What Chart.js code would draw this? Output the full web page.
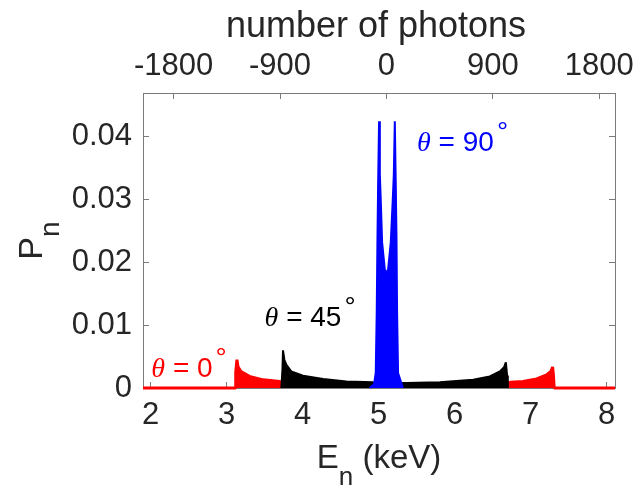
<!DOCTYPE html>
<html>
<head>
<meta charset="utf-8">
<script src="https://cdn.jsdelivr.net/npm/chart.js"></script>
<style>
  html, body { margin: 0; padding: 0; background: #fff; }
  #wrap { width: 636px; height: 486px; position: relative; }
</style>
</head>
<body>
<div id="wrap"><canvas id="chart"></canvas></div>
<script>
// theta = 0 deg (red)
const redEnergy = [1.9, 3.112, 3.12, 3.136, 3.15, 3.19, 3.30, 3.48, 3.70, 4.0, 4.5, 5.0, 5.5, 6.0, 6.5, 6.73, 6.90, 7.08, 7.21, 7.27, 7.289, 7.30, 7.31, 8.11];
const redProb = [0, 0, 0.0025, 0.0045, 0.0034, 0.0026, 0.00185, 0.0013, 0.00105, 0.0009, 0.0007, 0.00065, 0.00065, 0.0007, 0.0008, 0.0009, 0.00105, 0.00144, 0.0021, 0.0027, 0.00335, 0.002, 0, 0];

// theta = 45 deg (black)
const blackEnergy = [3.72, 3.735, 3.742, 3.76, 3.787, 3.85, 4.005, 4.27, 4.577, 4.93, 5.1, 5.367, 5.805, 6.244, 6.463, 6.595, 6.65, 6.674, 6.69, 6.70];
const blackProb = [0, 0.003, 0.006, 0.0045, 0.0037, 0.00265, 0.00196, 0.00144, 0.00105, 0.0009, 0.00085, 0.0008, 0.0009, 0.0013, 0.00185, 0.00265, 0.0033, 0.0041, 0.002, 0];

// theta = 90 deg (blue)
const blueEnergy = [4.88, 4.94, 4.962, 4.975, 4.985, 4.993, 5.006, 5.016, 5.028, 5.046, 5.081, 5.103, 5.125, 5.16, 5.186, 5.2, 5.213, 5.226, 5.235, 5.243, 5.256, 5.32];
const blueProb = [0, 0.0006, 0.0024, 0.012, 0.024, 0.032, 0.0425, 0.034, 0.030, 0.0232, 0.0189, 0.01835, 0.0189, 0.0232, 0.030, 0.034, 0.0425, 0.032, 0.024, 0.012, 0.0024, 0];

const xTicks = [2, 3, 4, 5, 6, 7, 8];
const yTicks = [0, 0.01, 0.02, 0.03, 0.04];
const photonTicks = [-1800, -900, 0, 900, 1800];

const labelAngles = ['0', '45', '90'];
const labelEnergy = [2.01, 3.50, 5.506];
const labelProb = [0.00176, 0.00983, 0.03775];
const labelColors = ['#ff0000', '#000000', '#0000ff'];

const X_MIN = 1.9, X_MAX = 8.11, Y_MAX = 0.047;
const E_ZERO = 5.103;              // keV at zero photons
const KEV_PER_PHOTON = 1.4 / 900;

const TEXT = '#262626';
const FRAME = '#7a7a7a';
const SANS = "'Liberation Sans', Arial, sans-serif";
const SERIF = "'Liberation Serif', 'Times New Roman', serif";

function toPoints(xs, ys) {
  return xs.map((x, i) => ({ x: x, y: ys[i] }));
}

function setTicks(values) {
  return scale => { scale.ticks = values.map(v => ({ value: v })); };
}

// fixed box sizes, no extra room for overhanging labels
function fixSize(dim, size) {
  return scale => {
    scale[dim] = size;
    scale.paddingLeft = scale.paddingRight = scale.paddingTop = scale.paddingBottom = 0;
  };
}

// draws a run of text pieces, returns total width
function drawParts(ctx, x, y, parts, measureOnly) {
  let cx = x;
  parts.forEach(p => {
    ctx.font = p.font;
    if (!measureOnly) ctx.fillText(p.text, cx + (p.gap || 0), y - (p.rise || 0));
    cx += ctx.measureText(p.text).width + (p.gap || 0);
  });
  return cx - x;
}

function drawCentered(ctx, cx, y, parts) {
  const w = drawParts(ctx, 0, 0, parts, true);
  drawParts(ctx, cx - w / 2, y, parts);
}

const textPlugin = {
  id: 'texts',
  afterDraw(chart) {
    const ctx = chart.ctx;
    const area = chart.chartArea;
    const xs = chart.scales.x, ys = chart.scales.y;
    ctx.save();
    ctx.textBaseline = 'alphabetic';
    ctx.textAlign = 'left';
    ctx.fillStyle = TEXT;

    // axis titles
    const midX = (area.left + area.right) / 2;
    drawCentered(ctx, midX - 3, area.top - 56, [{ text: 'number of photons', font: '36px ' + SANS }]);
    drawCentered(ctx, midX, area.bottom + 80, [
      { text: 'E', font: '33px ' + SANS },
      { text: 'n', font: '26px ' + SANS, rise: -17 },
      { text: ' (keV)', font: '33px ' + SANS }
    ]);
    ctx.save();
    ctx.translate(42, (area.top + area.bottom) / 2);
    ctx.rotate(-Math.PI / 2);
    drawCentered(ctx, 0, 0, [
      { text: 'P', font: '34px ' + SANS },
      { text: 'n', font: '28px ' + SANS, rise: -17 }
    ]);
    ctx.restore();

    // curve labels
    labelAngles.forEach((a, i) => {
      ctx.fillStyle = labelColors[i];
      const px = xs.getPixelForValue(labelEnergy[i]);
      const py = ys.getPixelForValue(labelProb[i]);
      drawParts(ctx, px, py, [
        { text: '\u03b8', font: 'italic 28px ' + SERIF },
        { text: ' = ' + a, font: '28px ' + SANS },
        { text: '\u00b0', font: '28px ' + SANS, rise: 10, gap: 3 }
      ]);
    });
    ctx.restore();
  }
};

const tickFont = { family: SANS, size: 31 };

new Chart(document.getElementById('chart'), {
  type: 'line',
  data: {
    datasets: [
      { label: '90', data: toPoints(blueEnergy, blueProb), borderColor: '#0000ff', backgroundColor: '#0000ff', borderWidth: 2 },
      { label: '45', data: toPoints(blackEnergy, blackProb), borderColor: '#000000', backgroundColor: '#000000', borderWidth: 2 },
      { label: '0', data: toPoints(redEnergy, redProb), borderColor: '#ff0000', backgroundColor: '#ff0000', borderWidth: 3 }
    ].map(d => Object.assign(d, { fill: 'origin', pointRadius: 0, tension: 0, clip: 4, borderJoinStyle: 'bevel' }))
  },
  options: {
    responsive: true,
    maintainAspectRatio: false,
    animation: false,
    layout: { padding: { left: 0, right: 21, top: 0, bottom: 0 } },
    plugins: { legend: { display: false }, tooltip: { enabled: false } },
    scales: {
      x: {
        type: 'linear', position: 'bottom', min: X_MIN, max: X_MAX,
        afterBuildTicks: setTicks(xTicks),
        afterFit: fixSize('height', 98),
        grid: { drawOnChartArea: false, tickLength: -6, color: FRAME },
        border: { color: FRAME, width: 1 },
        ticks: { font: tickFont, color: TEXT, padding: 15, maxRotation: 0, autoSkip: false, callback: v => String(v) }
      },
      x2: {
        type: 'linear', position: 'top',
        min: (X_MIN - E_ZERO) / KEV_PER_PHOTON,
        max: (X_MAX - E_ZERO) / KEV_PER_PHOTON,
        afterBuildTicks: setTicks(photonTicks),
        afterFit: fixSize('height', 93),
        grid: { drawOnChartArea: false, tickLength: -6, color: FRAME },
        border: { color: FRAME, width: 1 },
        ticks: { font: tickFont, color: TEXT, padding: 14, maxRotation: 0, autoSkip: false, callback: v => String(v) }
      },
      y: {
        type: 'linear', position: 'left', min: 0, max: Y_MAX,
        afterBuildTicks: setTicks(yTicks),
        afterFit: fixSize('width', 143),
        grid: { drawOnChartArea: false, tickLength: -6, color: FRAME },
        border: { color: FRAME, width: 1 },
        ticks: { font: tickFont, color: TEXT, padding: 17, callback: v => v === 0 ? '0' : v.toFixed(2) }
      },
      y2: {
        type: 'linear', position: 'right', min: 0, max: Y_MAX,
        afterBuildTicks: setTicks(yTicks),
        afterFit: fixSize('width', 0),
        grid: { drawOnChartArea: false, tickLength: -6, color: FRAME },
        border: { color: FRAME, width: 1 },
        ticks: { display: false }
      }
    }
  },
  plugins: [textPlugin]
});
</script>
</body>
</html>
